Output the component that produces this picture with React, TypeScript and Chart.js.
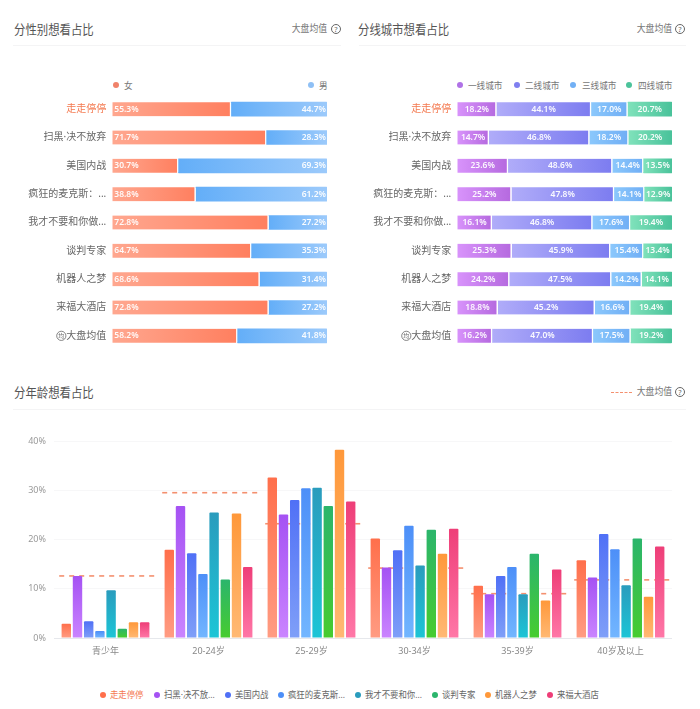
import React, { useEffect, useRef } from "react";
import { Chart, registerables } from "chart.js";

Chart.register(...registerables);

const FONT = '"Noto Sans", "Noto Sans CJK SC", sans-serif';

const films = ["走走停停", "扫黑·决不放弃", "美国内战", "疯狂的麦克斯：...", "我才不要和你做...", "谈判专家", "机器人之梦", "来福大酒店", "大盘均值"];

const female = [55.3, 71.7, 30.7, 38.8, 72.8, 64.7, 68.6, 72.8, 58.2];
const male = [44.7, 28.3, 69.3, 61.2, 27.2, 35.3, 31.4, 27.2, 41.8];

const tier1 = [18.2, 14.7, 23.6, 25.2, 16.1, 25.3, 24.2, 18.8, 16.2];
const tier2 = [44.1, 46.8, 48.6, 47.8, 46.8, 45.9, 47.5, 45.2, 47.0];
const tier3 = [17.0, 18.2, 14.4, 14.1, 17.6, 15.4, 14.2, 16.6, 17.5];
const tier4 = [20.7, 20.2, 13.5, 12.9, 19.4, 13.4, 14.1, 19.4, 19.2];

const ageGroups = ["青少年", "20-24岁", "25-29岁", "30-34岁", "35-39岁", "40岁及以上"];
const ageZouzou = [2.9, 17.9, 32.6, 20.2, 10.6, 15.8];
const ageSaohei = [12.6, 26.8, 25.1, 14.3, 8.9, 12.3];
const ageMeiguo = [3.4, 17.2, 28.0, 17.8, 12.6, 21.1];
const ageFengkuang = [1.4, 13.0, 30.4, 22.8, 14.4, 18.0];
const ageWocai = [9.7, 25.5, 30.5, 14.7, 8.9, 10.7];
const ageTanpan = [1.9, 11.9, 26.8, 22.0, 17.1, 20.2];
const ageJiqiren = [3.2, 25.3, 38.2, 17.1, 7.6, 8.4];
const ageLaifu = [3.2, 14.4, 27.7, 22.2, 13.9, 18.6];
const ageMarket = [12.6, 29.5, 23.2, 14.2, 9.0, 11.8];
const yTicks = [0, 10, 20, 30, 40];

const ageSeriesNames = ["走走停停", "扫黑·决不放...", "美国内战", "疯狂的麦克斯...", "我才不要和你...", "谈判专家", "机器人之梦", "来福大酒店"];
const ageSeries = [ageZouzou, ageSaohei, ageMeiguo, ageFengkuang, ageWocai, ageTanpan, ageJiqiren, ageLaifu];
const ageColors = [
  ["#ff6f4b", "#ff9c83"],
  ["#a552f3", "#ca84ff"],
  ["#5070f6", "#7f9ff8"],
  ["#4d8ff8", "#72b6ff"],
  ["#2a9cbd", "#1cc5d6"],
  ["#2bb56c", "#47cc2f"],
  ["#ff983a", "#ffb974"],
  ["#ee3e78", "#ff77a7"],
];

type Seg = { label: string; data: number[]; from: string; to: string };

const genderSegs: Seg[] = [
  { label: "女", data: female, from: "#ffa78f", to: "#ff7f5f" },
  { label: "男", data: male, from: "#63aef8", to: "#9ccafb" },
];
const citySegs: Seg[] = [
  { label: "一线城市", data: tier1, from: "#d893fb", to: "#b569df" },
  { label: "二线城市", data: tier2, from: "#b0acf9", to: "#7c7cf0" },
  { label: "三线城市", data: tier3, from: "#8bc8fc", to: "#70aef5" },
  { label: "四线城市", data: tier4, from: "#80e2bb", to: "#49c29a" },
];

function StackedBars({ left, segs, axisWidth, rightPad, center }: { left: number; segs: Seg[]; axisWidth: number; rightPad: number; center: boolean }) {
  const ref = useRef<HTMLCanvasElement>(null);
  useEffect(() => {
    const labelPlugin = {
      id: "segLabels",
      afterDatasetsDraw(chart: any) {
        const ctx = chart.ctx;
        ctx.save();
        ctx.font = `600 8.5px ${FONT}`;
        ctx.fillStyle = "rgba(255,255,255,0.95)";
        ctx.textBaseline = "middle";
        chart.data.datasets.forEach((ds: any, di: number) => {
          chart.getDatasetMeta(di).data.forEach((bar: any, i: number) => {
            const text = ds.data[i].toFixed(1) + "%";
            if (center) {
              ctx.textAlign = "center";
              ctx.fillText(text, (bar.base + bar.x) / 2, bar.y);
            } else if (di === 0) {
              ctx.textAlign = "left";
              ctx.fillText(text, bar.base + 2, bar.y);
            } else {
              ctx.textAlign = "right";
              ctx.fillText(text, bar.x - 1, bar.y);
            }
          });
        });
        const y = chart.scales.y;
        const cy = y.getPixelForValue(films.length - 1);
        const cx = y.right - 6 - 39.5 - 5.5;
        ctx.strokeStyle = "#666";
        ctx.lineWidth = 0.8;
        ctx.beginPath();
        ctx.arc(cx, cy, 4.6, 0, Math.PI * 2);
        ctx.stroke();
        ctx.font = `6px ${FONT}`;
        ctx.fillStyle = "#666";
        ctx.textAlign = "center";
        ctx.fillText("均", cx, cy);
        ctx.restore();
      },
    };
    const chart = new Chart(ref.current!, {
      type: "bar",
      plugins: [labelPlugin],
      data: {
        labels: films,
        datasets: segs.map((s, si) => ({
          label: s.label,
          data: s.data,
          barThickness: 14,
          borderSkipped: false,
          borderRadius: 1,
          borderColor: "#fff",
          borderWidth: { left: 0, top: 0, bottom: 0, right: si === segs.length - 1 ? 0 : 1.5 },
          backgroundColor: (c: any) => {
            const area = c.chart.chartArea;
            if (c.dataIndex === undefined || !area) return s.from;
            const x = c.chart.scales.x;
            let sum = 0;
            for (let k = 0; k < si; k++) sum += segs[k].data[c.dataIndex];
            const g = c.chart.ctx.createLinearGradient(x.getPixelForValue(sum), 0, x.getPixelForValue(sum + s.data[c.dataIndex]), 0);
            g.addColorStop(0, s.from);
            g.addColorStop(1, s.to);
            return g;
          },
        })),
      },
      options: {
        indexAxis: "y",
        animation: false,
        responsive: false,
        events: [],
        layout: { autoPadding: false, padding: { left: 0, right: rightPad, top: 0, bottom: 0 } },
        plugins: { legend: { display: false }, tooltip: { enabled: false } },
        scales: {
          x: { stacked: true, display: false, min: 0, max: 100 },
          y: {
            stacked: true,
            grid: { display: false, drawTicks: false },
            border: { display: false },
            afterFit(s: any) {
              s.width = axisWidth;
              s.paddingTop = 0;
              s.paddingBottom = 0;
              if (s._margins) {
                s._margins.top = 0;
                s._margins.bottom = 0;
              }
            },
            ticks: {
              autoSkip: false,
              padding: 6,
              font: { family: FONT, size: 10 },
              color: (c: any) => (c.index === 0 ? "#f4794f" : "#666"),
            },
          },
        },
      },
    } as any);
    return () => chart.destroy();
  }, []);
  return <canvas ref={ref} width={350} height={255} style={{ position: "absolute", left, top: 95, width: 350, height: 255 }} />;
}

function AgeBars() {
  const ref = useRef<HTMLCanvasElement>(null);
  useEffect(() => {
    const meanPlugin = {
      id: "marketMean",
      beforeDatasetsDraw(chart: any) {
        const { ctx, scales } = chart;
        ctx.save();
        ctx.strokeStyle = "#f4906f";
        ctx.lineWidth = 1.6;
        ctx.setLineDash([5, 5]);
        ageMarket.forEach((v, i) => {
          const c = scales.x.getPixelForValue(i) + 3.2;
          const y = scales.y.getPixelForValue(v);
          ctx.beginPath();
          ctx.moveTo(c - 49.5, y);
          ctx.lineTo(c + 49.5, y);
          ctx.stroke();
        });
        ctx.restore();
      },
    };
    const chart = new Chart(ref.current!, {
      type: "bar",
      plugins: [meanPlugin],
      data: {
        labels: ageGroups,
        datasets: ageSeries.map((data, si) => ({
          label: ageSeriesNames[si],
          data,
          categoryPercentage: 0.87,
          barPercentage: 0.84,
          borderRadius: { topLeft: 1, topRight: 1, bottomLeft: 0, bottomRight: 0 },
          borderSkipped: false,
          backgroundColor: (c: any) => {
            const area = c.chart.chartArea;
            if (c.dataIndex === undefined || !area) return ageColors[si][0];
            const y = c.chart.scales.y;
            const g = c.chart.ctx.createLinearGradient(0, y.getPixelForValue(data[c.dataIndex]), 0, y.getPixelForValue(0));
            g.addColorStop(0, ageColors[si][0]);
            g.addColorStop(1, ageColors[si][1]);
            return g;
          },
        })),
      },
      options: {
        animation: false,
        responsive: false,
        events: [],
        layout: { autoPadding: false, padding: { left: 0, right: 28, top: 21, bottom: 0 } },
        plugins: { legend: { display: false }, tooltip: { enabled: false } },
        scales: {
          x: {
            grid: { display: false, drawTicks: false },
            border: { display: false },
            afterFit(s: any) {
              s.height = 27;
            },
            ticks: { padding: 8, font: { family: FONT, size: 9 }, color: "#888", maxRotation: 0 },
          },
          y: {
            min: 0,
            max: 40,
            afterBuildTicks(s: any) {
              s.ticks = yTicks.map((value) => ({ value }));
            },
            afterFit(s: any) {
              s.width = 54;
            },
            border: { display: false },
            grid: {
              drawTicks: false,
              color: (c: any) => (c.tick.value === 0 ? "#e6e8ec" : "#f7f7f8"),
            },
            ticks: {
              padding: 8,
              font: { family: FONT, size: 9 },
              color: "#999",
              callback: (v: any) => v + "%",
            },
          },
        },
      },
    } as any);
    return () => chart.destroy();
  }, []);
  return <canvas ref={ref} width={700} height={245} style={{ position: "absolute", left: 0, top: 420, width: 700, height: 245 }} />;
}

const T = ({ x, y, size, color, children, right }: any) => (
  <span
    style={{
      position: "absolute",
      ...(right !== undefined ? { right: 700 - right } : { left: x }),
      top: y,
      transform: "translateY(-50%) scaleY(1.1)",
      fontSize: size,
      lineHeight: 1,
      color,
      whiteSpace: "nowrap",
    }}
  >
    {children}
  </span>
);
const Dot = ({ x, y, color, r = 3 }: any) => (
  <i style={{ position: "absolute", left: x - r, top: y - r, width: r * 2, height: r * 2, borderRadius: "50%", background: color }} />
);
const Help = ({ x, y }: any) => (
  <span
    style={{
      position: "absolute",
      left: x - 5,
      top: y - 5,
      width: 10,
      height: 10,
      boxSizing: "border-box",
      border: "1px solid #666",
      borderRadius: "50%",
      fontSize: 7.5,
      lineHeight: "8px",
      textAlign: "center",
      color: "#666",
    }}
  >
    ?
  </span>
);
const Rule = ({ x, y, w }: any) => <i style={{ position: "absolute", left: x, top: y, width: w, height: 1, background: "#f4f4f5" }} />;

const legendTop = [
  { dot: 115.5, text: 124, name: genderSegs[0].label, color: "#f0826a" },
  { dot: 311, text: 319, name: genderSegs[1].label, color: "#8fc0f5" },
  { dot: 460, text: 468, name: citySegs[0].label, color: "#b072e6" },
  { dot: 516.6, text: 525, name: citySegs[1].label, color: "#7f7ff0" },
  { dot: 572.6, text: 582, name: citySegs[2].label, color: "#72b0f5" },
  { dot: 629, text: 638, name: citySegs[3].label, color: "#4cc39b" },
];
const legendDots = [103, 157, 228, 281, 358, 435, 488, 550];

export default function App() {
  return (
    <div style={{ position: "fixed", left: 0, top: 0, width: 700, height: 709, background: "#fff", overflow: "hidden", fontFamily: FONT }}>
      <T x={14} y={29} size={11.4} color="#555">分性别想看占比</T>
      <T x={358} y={29} size={11.4} color="#555">分线城市想看占比</T>
      <T x={14} y={392} size={11.4} color="#555">分年龄想看占比</T>
      <T right={327} y={29} size={8.8} color="#777">大盘均值</T>
      <T right={672} y={29} size={8.8} color="#777">大盘均值</T>
      <T right={672} y={392} size={8.8} color="#777">大盘均值</T>
      <Help x={336} y={28.5} />
      <Help x={680} y={28.5} />
      <Help x={680} y={391.5} />
      <Rule x={13} y={45} w={328} />
      <Rule x={359} y={45} w={327} />
      <Rule x={13} y={409} w={673} />
      <i style={{ position: "absolute", left: 611, top: 391.5, width: 21, height: 0, borderTop: "1px dashed #f4906f" }} />
      {legendTop.map((l) => (
        <React.Fragment key={l.name}>
          <Dot x={l.dot} y={85} color={l.color} />
          <T x={l.text} y={85.5} size={8.6} color="#777">{l.name}</T>
        </React.Fragment>
      ))}
      <StackedBars left={0} segs={genderSegs} axisWidth={112.3} rightPad={23} center={false} />
      <StackedBars left={350} segs={citySegs} axisWidth={107.3} rightPad={28} center={true} />
      <AgeBars />
      {ageSeriesNames.map((name, i) => (
        <React.Fragment key={name}>
          <Dot x={legendDots[i]} y={695} color={ageColors[i][0]} />
          <T x={legendDots[i] + 7} y={695} size={8.4} color={i === 0 ? "#f4794f" : "#666"}>{name}</T>
        </React.Fragment>
      ))}
    </div>
  );
}
